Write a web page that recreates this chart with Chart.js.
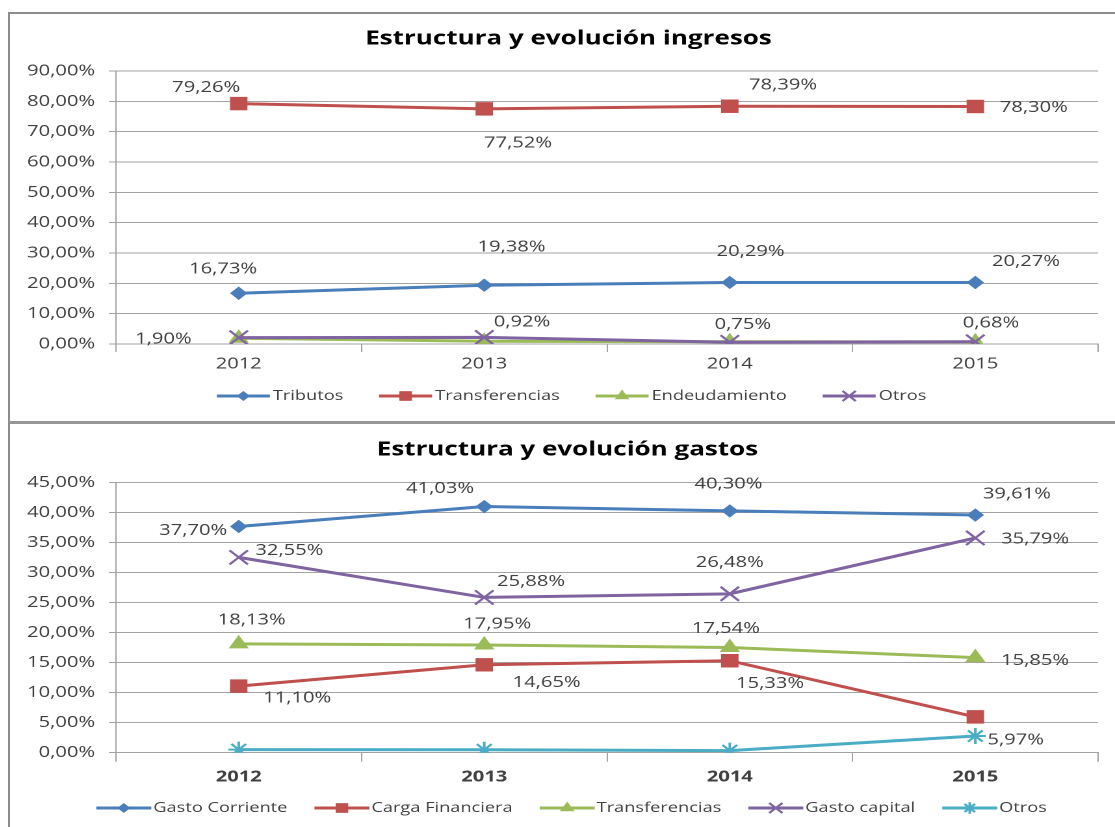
<!DOCTYPE html>
<html>
<head>
<meta charset="utf-8">
<script src="https://cdn.jsdelivr.net/npm/chart.js@4.4.1/dist/chart.umd.min.js"></script>
<style>
html, body { margin: 0; padding: 0; background: #fff; overflow: hidden; width: 1115px; height: 827px; }
.frame { position: absolute; left: 8px; width: 1107px; border-left: 2px solid #8c8c8c; }
#f1 { top: 12px; height: 407px; border-top: 2px solid #8c8c8c; }
#f2 { top: 421px; height: 403px; border-top: 3px solid #969696; }
.wrap { position: absolute; left: 0; top: 0; transform: scaleX(1.3); transform-origin: 0 0; }
canvas { display: block; }
</style>
</head>
<body>
<div class="frame" id="f1"><div class="wrap"><canvas id="ingresos" width="850" height="407"></canvas></div></div>
<div class="frame" id="f2"><div class="wrap"><canvas id="gastos" width="850" height="403"></canvas></div></div>
<script>
// datos
var years = ['2012', '2013', '2014', '2015'];

var ingTributos       = [16.73, 19.38, 20.29, 20.27];
var ingTransferencias = [79.26, 77.52, 78.39, 78.30];
var ingEndeudamiento  = [1.90, 0.92, 0.75, 0.68];
var ingOtros          = [2.11, 2.18, 0.57, 0.75];

var gasCorriente      = [37.70, 41.03, 40.30, 39.61];
var gasCarga          = [11.10, 14.65, 15.33, 5.97];
var gasTransferencias = [18.13, 17.95, 17.54, 15.85];
var gasCapital        = [32.55, 25.88, 26.48, 35.79];
var gasOtros          = [0.52, 0.49, 0.35, 2.78];

var ingAxis = [0, 90, 10];   // min, max, step
var gasAxis = [0, 45, 5];

// label placement (dx, dy) relative to each point
var ingLabelPos = {
    tributos: [[-12, -24], [21, -38], [16, -31], [39, -21]],
    transf:   [[-25, -16], [26, 34], [41, -21], [45, 1]],
    endeud:   [[-58, 1], [29, -19], [10, -17], [12, -19]]
};
var gasLabelPos = {
    corriente: [[-35, 4], [-34, -18], [-1, -27], [32, -21]],
    carga:     [[45, 12], [48, 18], [31, 23], [31, 23]],
    transf:    [[10, -24], [10, -21], [-3, -19], [46, 3]],
    capital:   [[39, -7], [36, -16], [0, -31], [46, 1]]
};

var gridColor = '#a3a3a3';
var textColor = '#404040';
var fontFam = '"Open Sans", sans-serif';

function pct(v) {
    return v.toFixed(2).replace('.', ',') + '%';
}

function serie(label, data, color, style, radius, border, pos) {
    return {
        label: label,
        data: data,
        borderColor: color,
        backgroundColor: color,
        borderWidth: 3,
        tension: 0,
        pointStyle: style,
        pointRadius: radius,
        pointHoverRadius: radius,
        pointBackgroundColor: color,
        pointBorderColor: color,
        pointBorderWidth: border,
        labelPos: pos
    };
}

var valueLabels = {
    id: 'valueLabels',
    afterDatasetsDraw: function(chart) {
        var ctx = chart.ctx;
        ctx.save();
        ctx.font = '15.5px ' + fontFam;
        ctx.fillStyle = textColor;
        ctx.textAlign = 'center';
        ctx.textBaseline = 'middle';
        chart.data.datasets.forEach(function(ds, i) {
            if (!ds.labelPos) return;
            chart.getDatasetMeta(i).data.forEach(function(pt, j) {
                var off = ds.labelPos[j];
                ctx.fillText(pct(ds.data[j]), pt.x + off[0], pt.y + off[1]);
            });
        });
        ctx.restore();
    }
};

// title drawn by hand so it can sit off the plot centre like the original
function chartTitle(text, x, y) {
    return {
        id: 'chartTitle',
        afterDraw: function(chart) {
            var ctx = chart.ctx;
            ctx.save();
            ctx.font = 'bold 20px ' + fontFam;
            ctx.fillStyle = '#000';
            ctx.textAlign = 'center';
            ctx.textBaseline = 'middle';
            ctx.fillText(text, x, y);
            ctx.restore();
        }
    };
}

function lineLegend(y, center, lineW, gapText, gapItem) {
    return {
        id: 'lineLegend',
        afterDraw: function(chart) {
            var ctx = chart.ctx;
            ctx.save();
            ctx.font = '14px ' + fontFam;
            var sets = chart.data.datasets;
            var total = 0;
            var widths = sets.map(function(ds) {
                var w = ctx.measureText(ds.label).width;
                total += lineW + gapText + w;
                return w;
            });
            total += gapItem * (sets.length - 1);
            var x = center - total / 2;
            sets.forEach(function(ds, i) {
                ctx.strokeStyle = ds.borderColor;
                ctx.lineWidth = 3;
                ctx.beginPath();
                ctx.moveTo(x, y);
                ctx.lineTo(x + lineW, y);
                ctx.stroke();
                ctx.fillStyle = ds.borderColor;
                ctx.lineWidth = ds.pointBorderWidth;
                Chart.helpers.drawPoint(ctx, {
                    pointStyle: ds.pointStyle,
                    radius: ds.pointRadius * 0.72,
                    borderWidth: ds.pointBorderWidth,
                    rotation: 0
                }, x + lineW / 2, y);
                ctx.fillStyle = textColor;
                ctx.textAlign = 'left';
                ctx.textBaseline = 'middle';
                ctx.fillText(ds.label, x + lineW + gapText, y);
                x += lineW + gapText + widths[i] + gapItem;
            });
            ctx.restore();
        }
    };
}

function makeChart(id, title, sets, axis, lay) {
    // later series on top, like the original
    sets.forEach(function(s, i) { s.order = sets.length - i; });
    return new Chart(document.getElementById(id).getContext('2d'), {
        type: 'line',
        data: { labels: years, datasets: sets },
        options: {
            responsive: false,
            animation: false,
            devicePixelRatio: 2,
            layout: { padding: { left: 0, right: 13, top: lay.top, bottom: lay.bottom } },
            plugins: {
                legend: { display: false },
                tooltip: { enabled: false },
                title: { display: false }
            },
            scales: {
                x: {
                    offset: true,
                    grid: { offset: true, drawOnChartArea: false, color: gridColor, tickLength: lay.tick },
                    border: { color: gridColor },
                    ticks: {
                        color: textColor,
                        padding: lay.xPad,
                        font: { family: fontFam, size: 15.5, weight: lay.xBold ? 'bold' : 'normal' }
                    },
                    afterFit: function(s) { s.height = 30; }
                },
                y: {
                    min: axis[0],
                    max: axis[1],
                    grid: { color: gridColor, tickLength: 5.4 },
                    border: { color: gridColor },
                    ticks: {
                        stepSize: axis[2],
                        color: textColor,
                        padding: 10.7,
                        font: { family: fontFam, size: 15.5 },
                        callback: function(v) { return pct(v); }
                    },
                    afterFit: function(s) { s.width = 81.5; }
                }
            }
        },
        plugins: [
            valueLabels,
            chartTitle(title, lay.titleX, lay.titleY),
            lineLegend(lay.legendY, 432, lay.lineW, lay.gapText, lay.gapItem)
        ]
    });
}

window.onload = function() {
    makeChart('ingresos', 'Estructura y evolución ingresos', [
        serie('Tributos', ingTributos, '#4a7ebb', 'rectRot', 6, 1, ingLabelPos.tributos),
        serie('Transferencias', ingTransferencias, '#c0504d', 'rect', 9.5, 0, ingLabelPos.transf),
        serie('Endeudamiento', ingEndeudamiento, '#9bbb59', 'triangle', 9, 0, ingLabelPos.endeud),
        serie('Otros', ingOtros, '#8064a2', 'crossRot', 10, 2, null)
    ], ingAxis, {
        top: 57, bottom: 47, titleX: 429.6, titleY: 25, tick: 8, xPad: 3, xBold: false,
        legendY: 382, lineW: 40.8, gapText: 2.3, gapItem: 27.5
    });

    makeChart('gastos', 'Estructura y evolución gastos', [
        serie('Gasto Corriente', gasCorriente, '#4a7ebb', 'rectRot', 6, 1, gasLabelPos.corriente),
        serie('Carga Financiera', gasCarga, '#c0504d', 'rect', 9.5, 0, gasLabelPos.carga),
        serie('Transferencias', gasTransferencias, '#9bbb59', 'triangle', 9, 0, gasLabelPos.transf),
        serie('Gasto capital', gasCapital, '#8064a2', 'crossRot', 10, 2, gasLabelPos.capital),
        serie('Otros', gasOtros, '#4bacc6', 'star', 8, 2, null)
    ], gasAxis, {
        top: 58.7, bottom: 44.3, titleX: 428.8, titleY: 26, tick: 9, xPad: 6, xBold: true,
        legendY: 384, lineW: 42.3, gapText: 1.5, gapItem: 20.8
    });
};
</script>
</body>
</html>
